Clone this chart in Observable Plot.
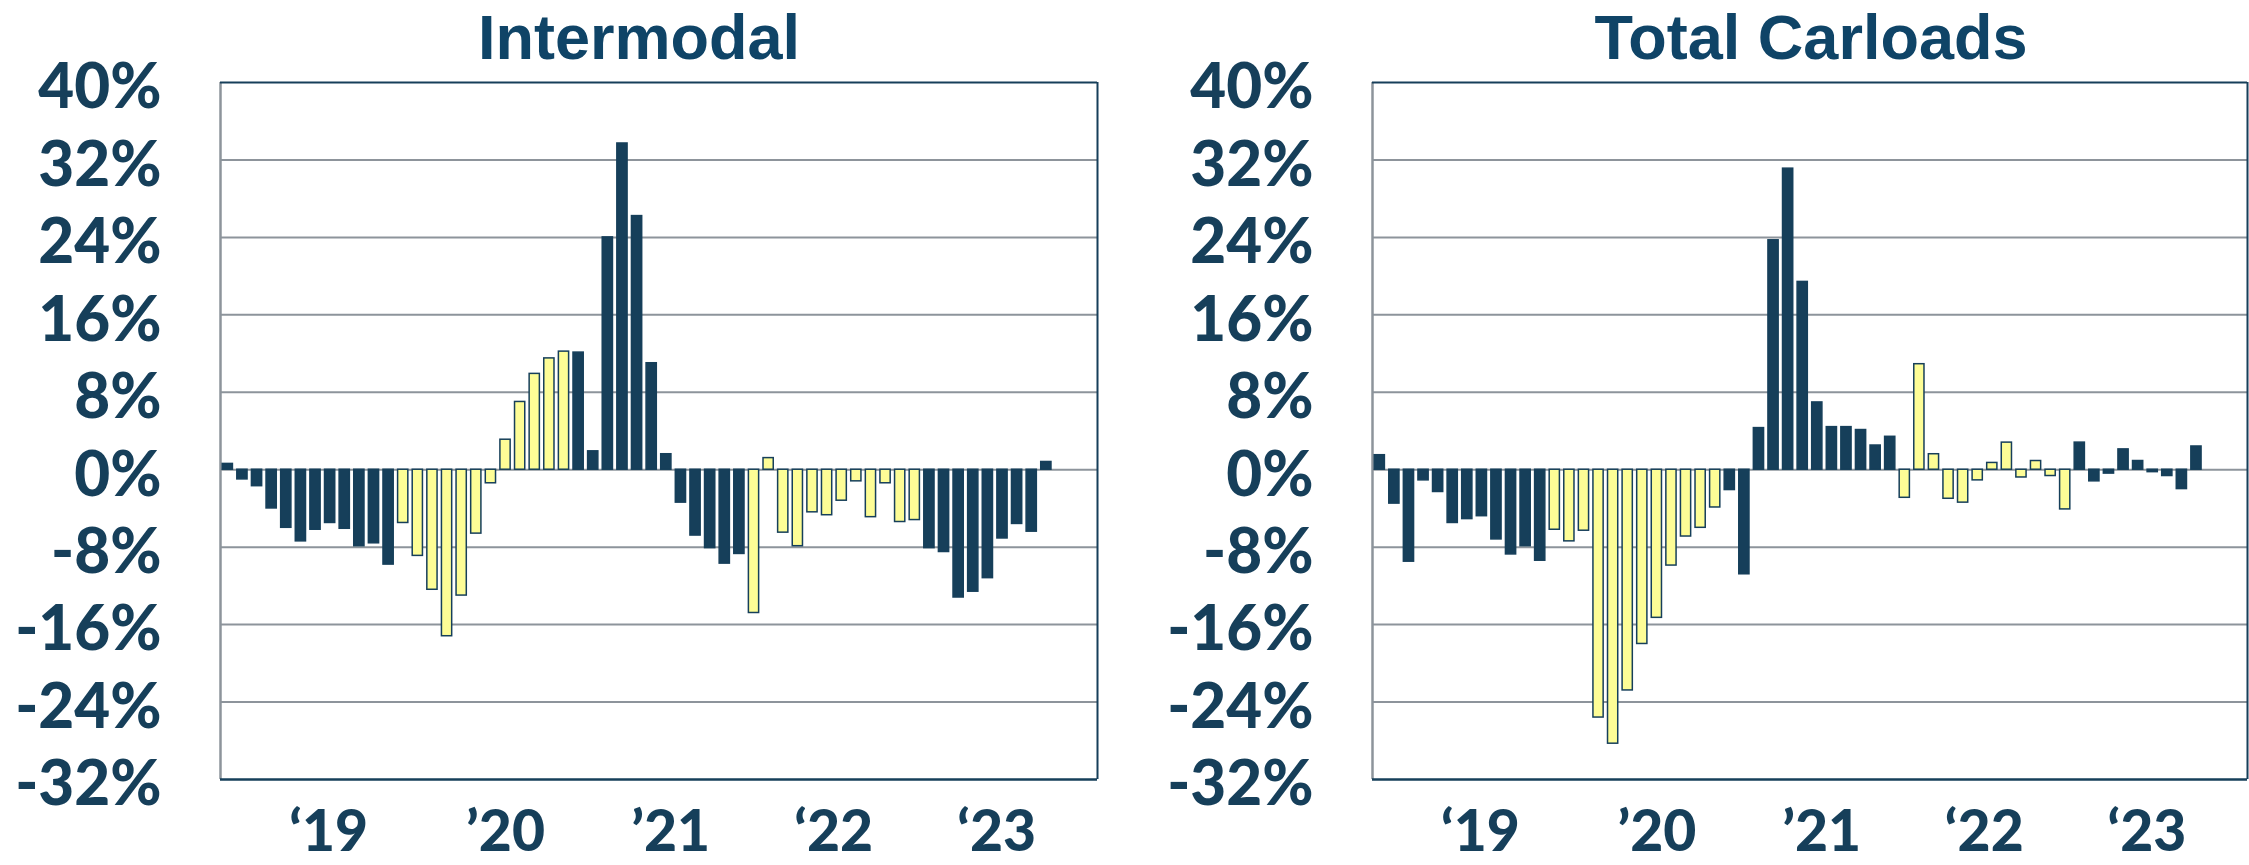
<!DOCTYPE html>
<html>
<head>
<meta charset="utf-8">
<script src="https://cdn.jsdelivr.net/npm/d3@7"></script>
<script src="https://cdn.jsdelivr.net/npm/@observablehq/plot@0.6"></script>
<style>
  html, body { margin: 0; padding: 0; background: #ffffff; }
  #wrap { position: relative; display: flex; width: 2249px; height: 865px; overflow: hidden; }
  #wrap svg { display: block; }
  .title {
    position: absolute; top: 1px; height: 72px;
    font-family: "Liberation Sans", Arial, sans-serif; font-weight: 700; font-size: 63px; line-height: 72px;
    color: #0f4467; white-space: nowrap;
    transform: translateX(-50%);
  }
</style>
</head>
<body>
<div id="wrap"></div>
<script>
// ---- Data (monthly y/y % change, Jan 2019 – Sep 2023) ----
const startYear = 2019;
const intermodal = [
  0.6, -1.0, -1.7, -4.0, -6.0, -7.4, -6.2, -5.5, -6.1, -7.9, -7.6, -9.8,
  -5.5, -8.9, -12.4, -17.2, -13.0, -6.6, -1.4, 3.1, 7.0, 9.9, 11.5, 12.2,
  12.1, 1.9, 24.0, 33.7, 26.2, 11.0, 1.6, -3.4, -6.8, -8.1, -9.7, -8.7,
  -14.8, 1.2, -6.5, -7.9, -4.4, -4.7, -3.2, -1.2, -4.9, -1.4, -5.4, -5.2,
  -8.1, -8.5, -13.2, -12.6, -11.2, -7.1, -5.6, -6.4, 0.8
];
const carloads = [
  1.5, -3.5, -9.5, -1.1, -2.3, -5.5, -5.1, -4.8, -7.2, -8.75, -7.9, -9.4,
  -6.2, -7.4, -6.3, -25.6, -28.3, -22.8, -18.0, -15.3, -9.9, -6.9, -6.0, -3.9,
  -2.1, -10.8, 4.3, 23.7, 31.1, 19.4, 6.95, 4.4, 4.4, 4.1, 2.5, 3.4,
  -2.9, 10.9, 1.6, -3.0, -3.4, -1.1, 0.7, 2.8, -0.8, 0.9, -0.65, -4.1,
  2.8, -1.2, -0.4, 2.1, 0.9, -0.25, -0.65, -2.0, 2.4
];
const titles = ["Intermodal", "Total Carloads"];
const yearLabels = ["\u201819", "\u201920", "\u201921", "\u201822", "\u201823"];
const yearLabelPos = [6.9, 19.0, 30.3, 41.45, 52.6];   // month-index positions of year labels
const yTicks = [-32, -24, -16, -8, 0, 8, 16, 24, 32, 40];
const monthSlots = 60; // Jan 2019 – Dec 2023

const navy = "#163f5a";
const yellow = "#fdfd96";
const grid = "#8d949b";

function panel(values, o) {
  const data = values.map((v, i) => ({i, v, year: startYear + Math.floor(i / 12)}));
  return Plot.plot({
    width: o.width,
    height: 865,
    marginLeft: o.ml,
    marginRight: o.mr,
    marginTop: 82,
    marginBottom: 86,
    style: {background: "transparent", overflow: "visible"},
    x: {domain: [-0.5, monthSlots - 0.5], axis: null},
    y: {domain: [-32, 40], axis: null},
    marks: [
      Plot.ruleY(yTicks.filter(t => t > -32 && t < 40), {stroke: grid, strokeWidth: 2}),
      Plot.ruleX([-0.5], {stroke: grid, strokeWidth: 2.5}),
      Plot.rect(data, {
        x1: d => d.i - 0.35,
        x2: d => d.i + 0.35,
        y1: 0,
        y2: "v",
        fill: d => (d.year - startYear) % 2 === 1 ? yellow : navy,
        stroke: navy,
        strokeWidth: 1.5
      }),
      Plot.ruleY([40], {stroke: navy, strokeWidth: 2}),
      Plot.ruleY([-32], {stroke: navy, strokeWidth: 2.5}),
      Plot.ruleX([monthSlots - 0.5], {stroke: navy, strokeWidth: 2}),
      Plot.axisY({
        ticks: yTicks,
        tickFormat: d => d + "%",
        label: null,
        tickSize: 0,
        tickPadding: 59,
        fontSize: 62,
        fontWeight: 900,
        fontFamily: "Lato",
        fill: navy,
        dy: 6
      }),
      Plot.text(yearLabels, {
        x: (d, i) => yearLabelPos[i],
        text: d => d,
        frameAnchor: "bottom",
        lineAnchor: "middle",
        dy: 53,
        fontSize: 57,
        fontWeight: 900,
        fontFamily: "Lato",
        fill: navy
      })
    ]
  });
}

const wrap = document.getElementById("wrap");
wrap.append(panel(intermodal, {width: 1124, ml: 220, mr: 27}));
wrap.append(panel(carloads, {width: 1125, ml: 248, mr: 2}));

const titleX = [639, 1811];
titles.forEach((t, k) => {
  const div = document.createElement("div");
  div.className = "title";
  div.style.left = titleX[k] + "px";
  div.textContent = t;
  wrap.append(div);
});
</script>
</body>
</html>
